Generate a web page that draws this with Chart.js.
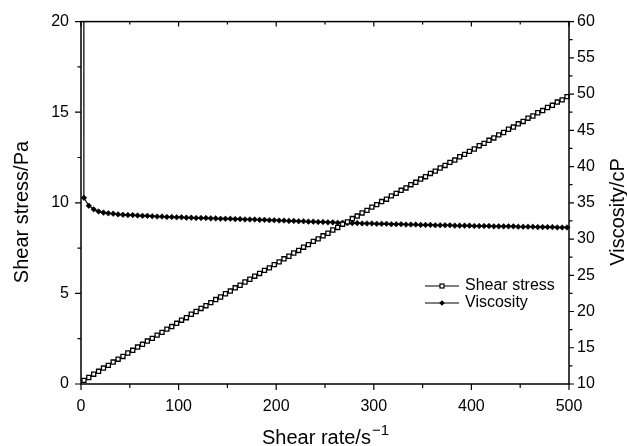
<!DOCTYPE html>
<html>
<head>
<meta charset="utf-8">
<script src="https://cdn.jsdelivr.net/npm/chart.js@4/dist/chart.umd.min.js"></script>
<style>
  html, body { margin: 0; padding: 0; background: #fff; }
  #wrap { width: 627px; height: 446px; }
</style>
</head>
<body>
<div id="wrap"><canvas id="myChart"></canvas></div>
<script>
var shearRate = [
  3, 8, 13, 18, 23, 28, 33, 38, 43, 48,
  53, 58, 63, 68, 73, 78, 83, 88, 93, 98,
  103, 108, 113, 118, 123, 128, 133, 138, 143, 148,
  153, 158, 163, 168, 173, 178, 183, 188, 193, 198,
  203, 208, 213, 218, 223, 228, 233, 238, 243, 248,
  253, 258, 263, 268, 273, 278, 283, 288, 293, 298,
  303, 308, 313, 318, 323, 328, 333, 338, 343, 348,
  353, 358, 363, 368, 373, 378, 383, 388, 393, 398,
  403, 408, 413, 418, 423, 428, 433, 438, 443, 448,
  453, 458, 463, 468, 473, 478, 483, 488, 493, 498
];

var shearStress = [
  0.20, 0.36, 0.54, 0.70, 0.88, 1.03, 1.21, 1.37, 1.52, 1.71,
  1.86, 2.04, 2.19, 2.37, 2.52, 2.70, 2.85, 3.03, 3.17, 3.35,
  3.52, 3.66, 3.85, 4.00, 4.17, 4.32, 4.49, 4.66, 4.80, 4.98,
  5.13, 5.31, 5.45, 5.63, 5.78, 5.95, 6.10, 6.27, 6.41, 6.59,
  6.74, 6.91, 7.05, 7.23, 7.37, 7.55, 7.69, 7.87, 8.01, 8.18,
  8.32, 8.50, 8.64, 8.82, 8.95, 9.13, 9.27, 9.44, 9.58, 9.76,
  9.90, 10.07, 10.20, 10.38, 10.52, 10.69, 10.82, 11.00, 11.13, 11.31,
  11.44, 11.62, 11.75, 11.92, 12.06, 12.23, 12.36, 12.54, 12.67, 12.84,
  12.97, 13.15, 13.28, 13.45, 13.58, 13.75, 13.88, 14.06, 14.18, 14.36,
  14.49, 14.67, 14.79, 14.97, 15.09, 15.26, 15.38, 15.56, 15.68, 15.86
];

var viscosity = [
  35.7, 34.6, 34.1, 33.8, 33.65, 33.55, 33.5, 33.4, 33.35, 33.3,
  33.3, 33.25, 33.2, 33.2, 33.15, 33.1, 33.1, 33.05, 33.05, 33.0,
  33.0, 32.95, 32.95, 32.9, 32.9, 32.9, 32.85, 32.85, 32.8, 32.8,
  32.8, 32.75, 32.75, 32.7, 32.7, 32.7, 32.65, 32.65, 32.6, 32.6,
  32.55, 32.55, 32.5, 32.5, 32.45, 32.45, 32.4, 32.4, 32.35, 32.35,
  32.3, 32.3, 32.25, 32.25, 32.2, 32.2, 32.2, 32.15, 32.15, 32.15,
  32.1, 32.1, 32.1, 32.05, 32.05, 32.05, 32.0, 32.0, 32.0, 31.95,
  31.95, 31.95, 31.9, 31.9, 31.9, 31.9, 31.85, 31.85, 31.85, 31.85,
  31.8, 31.8, 31.8, 31.8, 31.75, 31.75, 31.75, 31.75, 31.75, 31.7,
  31.7, 31.7, 31.7, 31.65, 31.65, 31.65, 31.65, 31.6, 31.6, 31.6
];

// the first readings, far above the axis
var spikeRate = [2.8, 2.9];
var spikeViscosity = [130, 46.7];

var seriesNames = ["Shear stress", "Viscosity"];

var stressPoints = shearRate.map(function (x, i) {
  return { x: x, y: shearStress[i] };
});
var viscPoints = spikeRate.map(function (x, i) {
  return { x: x, y: spikeViscosity[i] };
}).concat(shearRate.map(function (x, i) {
  return { x: x, y: viscosity[i] };
}));

var FONT = "'Liberation Sans', Arial, sans-serif";

// frame, minor ticks, axis titles and legend
var decor = {
  id: "decor",
  afterDraw: function (chart) {
    var ctx = chart.ctx;
    var a = chart.chartArea;
    var sx = chart.scales.x, sy = chart.scales.y, sy2 = chart.scales.y2;
    ctx.save();
    ctx.strokeStyle = "#000";
    ctx.fillStyle = "#000";

    ctx.lineWidth = 1.2;
    ctx.beginPath();
    for (var v = 0; v <= 500; v += 50) {
      var px = sx.getPixelForValue(v);
      var big = v % 100 === 0;
      ctx.moveTo(px, a.bottom);
      ctx.lineTo(px, a.bottom + (big ? 6 : 4));
      ctx.moveTo(px, a.top);
      ctx.lineTo(px, a.top + (big ? 5 : 3));
    }
    for (var s = 0; s <= 20; s += 2.5) {
      var py = sy.getPixelForValue(s);
      ctx.moveTo(a.left, py);
      ctx.lineTo(a.left - (s % 5 === 0 ? 6 : 3.5), py);
    }
    for (var c = 10; c <= 60; c += 2.5) {
      var py2 = sy2.getPixelForValue(c);
      ctx.moveTo(a.right, py2);
      ctx.lineTo(a.right + (c % 5 === 0 ? 5 : 3.5), py2);
    }
    ctx.stroke();

    ctx.lineWidth = 1.5;
    ctx.strokeRect(a.left, a.top, a.right - a.left, a.bottom - a.top);

    // axis titles
    ctx.font = "20px " + FONT;
    ctx.textAlign = "center";
    ctx.textBaseline = "middle";
    ctx.save();
    ctx.translate(22, 212);
    ctx.rotate(-Math.PI / 2);
    ctx.fillText("Shear stress/Pa", 0, 0);
    ctx.restore();
    ctx.save();
    ctx.translate(618, 212);
    ctx.rotate(-Math.PI / 2);
    ctx.fillText("Viscosity/cP", 0, 0);
    ctx.restore();

    ctx.textAlign = "left";
    ctx.textBaseline = "alphabetic";
    var main = "Shear rate/s";
    var sup = "\u22121";
    ctx.font = "20px " + FONT;
    var w1 = ctx.measureText(main).width;
    ctx.font = "15px " + FONT;
    var w2 = ctx.measureText(sup).width;
    var x0 = (a.left + a.right) / 2 - (w1 + w2) / 2;
    ctx.font = "20px " + FONT;
    ctx.fillText(main, x0, 444);
    ctx.font = "15px " + FONT;
    ctx.fillText(sup, x0 + w1 + 1, 435);

    // legend
    var rows = [286, 303];
    ctx.lineWidth = 1.2;
    ctx.font = "16px " + FONT;
    ctx.textBaseline = "middle";
    rows.forEach(function (y, i) {
      ctx.beginPath();
      ctx.moveTo(425, y);
      ctx.lineTo(459, y);
      ctx.stroke();
      if (i === 0) {
        ctx.fillStyle = "#fff";
        ctx.fillRect(440, y - 2, 4, 4);
        ctx.strokeRect(440, y - 2, 4, 4);
      } else {
        ctx.beginPath();
        ctx.moveTo(442, y - 2.8);
        ctx.lineTo(444.8, y);
        ctx.lineTo(442, y + 2.8);
        ctx.lineTo(439.2, y);
        ctx.closePath();
        ctx.fill();
      }
      ctx.fillStyle = "#000";
      ctx.fillText(seriesNames[i], 465, y);
    });
    ctx.restore();
  }
};

var tickFont = { family: FONT, size: 16 };

new Chart(myChart, {
  type: "line",
  data: {
    datasets: [
      {
        label: seriesNames[0],
        data: stressPoints,
        yAxisID: "y",
        borderColor: "#000",
        borderWidth: 1.2,
        pointStyle: "rect",
        pointRadius: 2.9,
        pointBorderWidth: 1.3,
        pointBorderColor: "#000",
        pointBackgroundColor: "#fff",
        clip: { left: 5, right: 5, top: 0, bottom: 5 },
      },
      {
        label: seriesNames[1],
        data: viscPoints,
        yAxisID: "y2",
        borderColor: "#000",
        borderWidth: 1.2,
        pointStyle: "rectRot",
        pointRadius: function (ctx) {
          return ctx.dataIndex < spikeRate.length ? 0 : 2.8;
        },
        pointBorderWidth: 0.6,
        pointBorderColor: "#000",
        pointBackgroundColor: "#000",
        clip: { left: 5, right: 5, top: 0, bottom: 5 },
      },
    ],
  },
  options: {
    responsive: true,
    maintainAspectRatio: false,
    animation: false,
    layout: { padding: { top: 21, left: 0, right: 0, bottom: 0 } },
    plugins: {
      legend: { display: false },
      tooltip: { enabled: false },
    },
    scales: {
      x: {
        type: "linear",
        position: "bottom",
        min: 0,
        max: 500,
        ticks: { stepSize: 100, color: "#000", font: tickFont, padding: 13 },
        grid: { display: false, drawTicks: false },
        border: { display: false },
        afterFit: function (s) { s.height = 62; },
      },
      y: {
        type: "linear",
        position: "left",
        min: 0,
        max: 20,
        ticks: { stepSize: 5, color: "#000", font: tickFont, padding: 12 },
        grid: { display: false, drawTicks: false },
        border: { display: false },
        afterFit: function (s) { s.width = 81; },
      },
      y2: {
        type: "linear",
        position: "right",
        min: 10,
        max: 60,
        ticks: { stepSize: 5, color: "#000", font: tickFont, padding: 8 },
        grid: { display: false, drawTicks: false },
        border: { display: false },
        afterFit: function (s) { s.width = 58; },
      },
    },
  },
  plugins: [decor],
});
</script>
</body>
</html>
